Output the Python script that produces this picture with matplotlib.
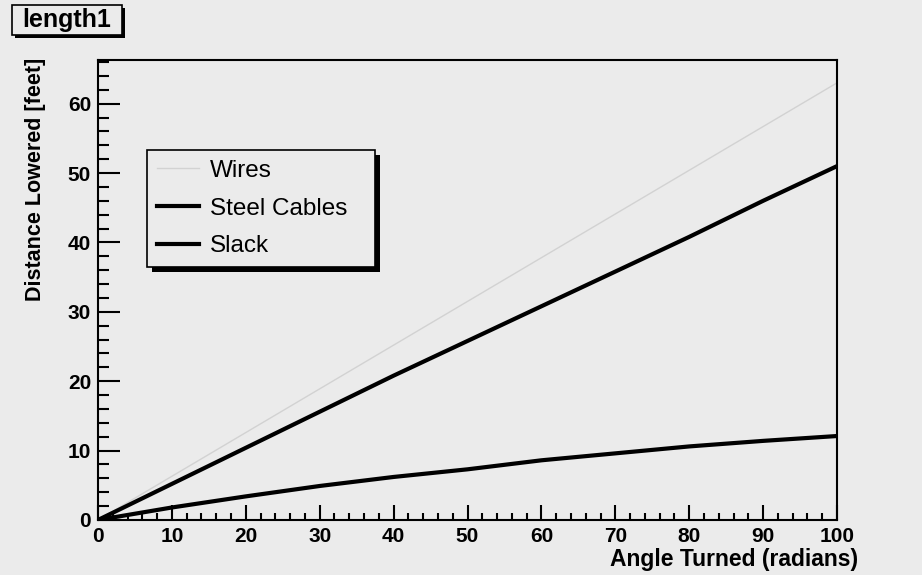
import numpy as np
import matplotlib
matplotlib.use('Agg')
import matplotlib.pyplot as plt
from matplotlib.ticker import MultipleLocator
from matplotlib.patches import Rectangle

# values
angle = [0, 10, 20, 30, 40, 50, 60, 70, 80, 90, 100]
wires = [0, 6.3, 12.6, 18.9, 25.2, 31.5, 37.8, 44.1, 50.4, 56.7, 63.0]
steel_cables = [0, 5.2, 10.4, 15.6, 20.8, 25.8, 30.8, 35.8, 40.8, 46.0, 51.0]
slack = [0, 1.8, 3.4, 4.9, 6.2, 7.3, 8.6, 9.6, 10.6, 11.4, 12.1]

bg = '#ebebeb'
plt.rcParams['font.family'] = ['Liberation Sans', 'DejaVu Sans']

W, H = 922, 575
fig = plt.figure(figsize=(W / 100, H / 100), dpi=100, facecolor=bg)
ax = fig.add_axes([0.1063, 0.0957, 0.8015, 0.8000])
ax.set_facecolor(bg)

ax.plot(angle, wires, color='#d2d2d2', lw=1.0, label='Wires')
ax.plot(angle, steel_cables, color='black', lw=3.0, label='Steel Cables')
ax.plot(angle, slack, color='black', lw=3.0, label='Slack')

ax.set_xlim(0, 100)
ax.set_ylim(0, 66.3)

for s in ax.spines.values():
    s.set_linewidth(1.5)
    s.set_color('black')

ax.xaxis.set_major_locator(MultipleLocator(10))
ax.xaxis.set_minor_locator(MultipleLocator(2))
ax.yaxis.set_major_locator(MultipleLocator(10))
ax.yaxis.set_minor_locator(MultipleLocator(2))
ax.tick_params(axis='x', which='major', direction='in', length=11, width=1.5,
               labelsize=15, pad=5, top=False)
ax.tick_params(axis='x', which='minor', direction='in', length=5, width=1.5, top=False)
ax.tick_params(axis='y', which='major', direction='in', length=16, width=1.5,
               labelsize=15, pad=5, right=False)
ax.tick_params(axis='y', which='minor', direction='in', length=8, width=1.5, right=False)
for lab in ax.get_xticklabels() + ax.get_yticklabels():
    lab.set_fontweight('bold')

ax.set_xlabel('Angle Turned (radians)', fontsize=16.5, fontweight='bold', loc='right')
ax.xaxis.set_label_coords(1.0284, -0.06)
ax.set_ylabel('Distance Lowered [feet]', fontsize=15.5, fontweight='bold', loc='top')
ax.yaxis.set_label_coords(-0.071, 1.004)

# legend stretched to the box width seen in the picture
leg = ax.legend(loc='upper left', bbox_to_anchor=(0.0663, 0.0, 0.3085, 0.804),
                mode='expand', borderaxespad=0,
                fontsize=17.5, frameon=True, fancybox=False, shadow=False,
                handlelength=1.75, borderpad=0.4, labelspacing=0.65, handletextpad=0.45)
frame = leg.get_frame()
frame.set_edgecolor('black')
frame.set_linewidth(1.2)
frame.set_facecolor(bg)
frame.set_alpha(1)
leg.set_zorder(10)

# title box with shadow (pixel positions from the picture)
fig.patches.append(Rectangle((15 / W, 1 - 38 / H), 110 / W, 30 / H, transform=fig.transFigure,
                             facecolor='black', edgecolor='none', zorder=5))
fig.patches.append(Rectangle((12 / W, 1 - 35 / H), 110 / W, 30 / H, transform=fig.transFigure,
                             facecolor=bg, edgecolor='black', linewidth=1.2, zorder=6))
fig.text(67 / W, 1 - 20 / H, 'length1', fontsize=18, fontweight='bold',
         va='center', ha='center', zorder=10)

# drop shadow behind the legend
fig.canvas.draw()
r = fig.canvas.get_renderer()
bb = leg.get_frame().get_window_extent(r)
ax.add_patch(Rectangle((bb.x0 + 5, bb.y0 - 5), bb.width, bb.height, transform=None,
                       facecolor='black', edgecolor='none', zorder=9, clip_on=False))

plt.savefig('out.png', dpi=100, facecolor=bg)
